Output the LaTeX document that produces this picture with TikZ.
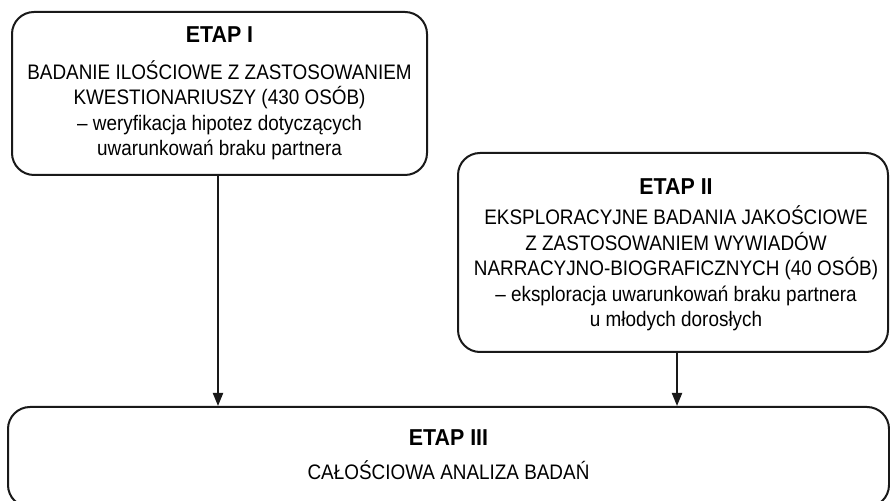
\documentclass[tikz,border=0pt]{standalone}
\usepackage{fontspec}
\setmainfont{Liberation Sans}
\newfontfamily\bodyfont[FakeStretch=0.9]{Liberation Sans}
\newfontfamily\headfont[FakeStretch=0.93]{Liberation Sans}
\usetikzlibrary{arrows.meta}
\begin{document}
\begin{tikzpicture}[x=1pt,y=1pt,
  stagebox/.style={draw=black!90, line width=2pt, rounded corners=22pt, inner sep=0pt},
  title/.style={font=\headfont\bfseries\fontsize{23}{25.5}\selectfont, anchor=base, inner sep=0pt},
  body/.style={font=\bodyfont\fontsize{21}{25.5}\selectfont, align=center, anchor=base, inner sep=0pt},
  flow/.style={line width=2pt, draw=black!90, -{Triangle[length=13pt,width=10pt]}}]
\useasboundingbox (0,0) rectangle (890,500);
\fill[white] (0,0) rectangle (890,500);
\node[stagebox, minimum width=415pt, minimum height=163pt] (s1) at (219.5,406.5) {};
\node[stagebox, minimum width=430pt, minimum height=199pt] (s2) at (673,247.5) {};
\node[stagebox, minimum width=881pt, minimum height=100pt] (s3) at (448.5,43) {};
\node[title] (t1) at (219.5,457) {ETAP I};
\node[body] (b1) at (219.5,344) {BADANIE ILOŚCIOWE Z ZASTOSOWANIEM\\KWESTIONARIUSZY (430 OSÓB)\\– weryfikacja hipotez dotyczących\\uwarunkowań braku partnera};
\node[title] (t2) at (676,305) {ETAP II};
\node[body] (b2) at (676,173) {EKSPLORACYJNE BADANIA JAKOŚCIOWE\\Z ZASTOSOWANIEM WYWIADÓW\\NARRACYJNO-BIOGRAFICZNYCH (40 OSÓB)\\– eksploracja uwarunkowań braku partnera\\u młodych dorosłych};
\node[title] (t3) at (448.5,55) {ETAP III};
\node[body] (b3) at (448.5,21) {CAŁOŚCIOWA ANALIZA BADAŃ};
\coordinate (a1) at (218,0);
\coordinate (a2) at (677,0);
\draw[flow] (s1.south -| a1) -- (s3.north -| a1);
\draw[flow] (s2.south -| a2) -- (s3.north -| a2);
\end{tikzpicture}
\end{document}
